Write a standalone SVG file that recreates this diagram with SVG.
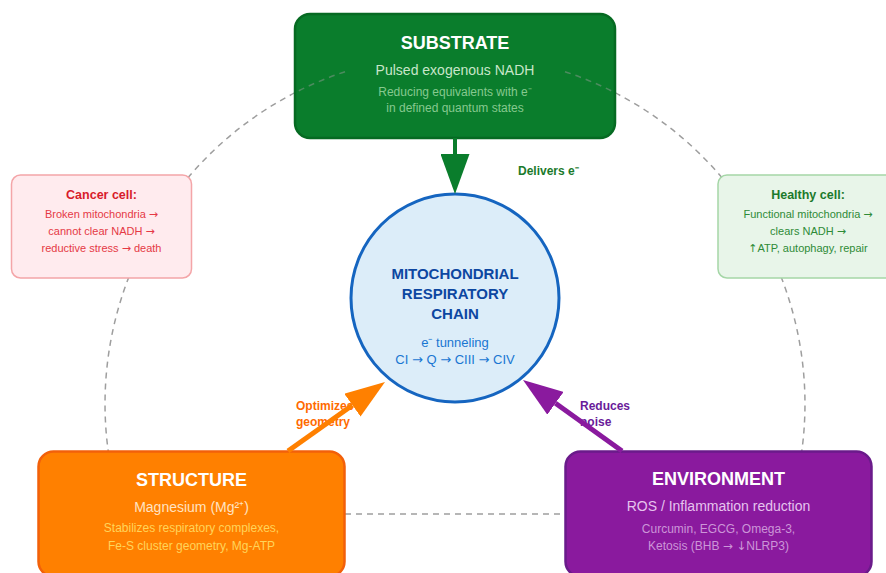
<svg xmlns="http://www.w3.org/2000/svg" width="886" height="573" viewBox="0 0 886 573">
  <defs>
    <style>
      text { font-family: "Liberation Sans", Arial, sans-serif; text-anchor: middle; }
      .sym { font-family: "DejaVu Sans", sans-serif; }
      .ring { fill: none; stroke: #9e9e9e; stroke-width: 1.5; stroke-dasharray: 6 5; }
      .ring-faint { fill: none; stroke: #9e9e9e; stroke-opacity: 0.45; stroke-width: 1.5; stroke-dasharray: 6 5; }
      .title { font-size: 18px; font-weight: bold; fill: #ffffff; }
      .sub { font-size: 14px; }
      .small { font-size: 12px; }
      .note-title { font-size: 12.5px; font-weight: bold; }
      .note { font-size: 11px; }
      .edge-label { font-size: 12px; font-weight: bold; text-anchor: start; }
    </style>
    <marker id="head-green" viewBox="0 0 40 29" refX="0" refY="14.5" markerWidth="40" markerHeight="29" markerUnits="userSpaceOnUse" orient="auto">
      <path d="M0,0 L40,14.5 L0,29 Z" fill="#0a7d2c"/>
    </marker>
    <marker id="head-orange" viewBox="0 0 40 28" refX="0" refY="14" markerWidth="40" markerHeight="28" markerUnits="userSpaceOnUse" orient="auto">
      <path d="M0,0 L40,14 L0,28 Z" fill="#ff8000"/>
    </marker>
    <marker id="head-purple" viewBox="0 0 40 28" refX="0" refY="14" markerWidth="40" markerHeight="28" markerUnits="userSpaceOnUse" orient="auto">
      <path d="M0,0 L40,14 L0,28 Z" fill="#8a1a9e"/>
    </marker>
  </defs>

  <rect x="0" y="0" width="886" height="573" fill="#ffffff"/>

  <!-- dashed cycle linking the four factors -->
  <g id="cycle">
    <path class="ring" d="M295,92.7 A350,350 0 0 0 108.2,451"/>
    <path class="ring" d="M615,92.7 A350,350 0 0 1 801.8,451"/>
    <line class="ring" x1="345" y1="514" x2="565" y2="514"/>
  </g>

  <g id="substrate">
    <rect x="295" y="14" width="320" height="124" rx="15" fill="#0a7d2c" stroke="#066a22" stroke-width="2.5"/>
    <path class="ring-faint" d="M345,71.7 A350,350 0 0 0 295,92.7"/>
    <path class="ring-faint" d="M565,71.7 A350,350 0 0 1 615,92.7"/>
    <text class="title" x="455" y="49">SUBSTRATE</text>
    <text class="sub" x="455" y="75" fill="#c8e6c9">Pulsed exogenous NADH</text>
    <text class="small" x="455" y="96" fill="#86c98f">Reducing equivalents with e⁻</text>
    <text class="small" x="455" y="112" fill="#86c98f">in defined quantum states</text>
  </g>

  <g id="cancer-cell">
    <rect x="11.5" y="175" width="180" height="103" rx="9" fill="#ffebee" stroke="#f4a5a8" stroke-width="1.5"/>
    <text class="note-title" x="101.5" y="199" fill="#d81b2a">Cancer cell:</text>
    <text class="note" x="101.5" y="218" fill="#e53945">Broken mitochondria <tspan class="sym">→</tspan></text>
    <text class="note" x="101.5" y="235" fill="#e53945">cannot clear NADH <tspan class="sym">→</tspan></text>
    <text class="note" x="101.5" y="252" fill="#e53945">reductive stress <tspan class="sym">→</tspan> death</text>
  </g>

  <g id="healthy-cell">
    <rect x="718" y="175" width="180" height="103" rx="9" fill="#e8f5e9" stroke="#a5d6a7" stroke-width="1.5"/>
    <text class="note-title" x="808" y="199" fill="#1b7a2b">Healthy cell:</text>
    <text class="note" x="808" y="218" fill="#2e8b37">Functional mitochondria <tspan class="sym">→</tspan></text>
    <text class="note" x="808" y="235" fill="#2e8b37">clears NADH <tspan class="sym">→</tspan></text>
    <text class="note" x="808" y="252" fill="#2e8b37"><tspan class="sym">↑</tspan>ATP, autophagy, repair</text>
  </g>

  <g id="structure">
    <rect x="38.5" y="451.5" width="306" height="125" rx="15" fill="#ff8000" stroke="#f2600a" stroke-width="2.5"/>
    <text class="title" x="191.5" y="486">STRUCTURE</text>
    <text class="sub" x="191.5" y="512" fill="#ffe3c2">Magnesium (Mg²⁺)</text>
    <text class="small" x="191.5" y="532" fill="#ffd45a">Stabilizes respiratory complexes,</text>
    <text class="small" x="191.5" y="549.5" fill="#ffd45a">Fe-S cluster geometry, Mg-ATP</text>
  </g>

  <g id="environment">
    <rect x="565.5" y="451.5" width="306" height="125" rx="15" fill="#8a1a9e" stroke="#6a1b8a" stroke-width="2.5"/>
    <text class="title" x="718.5" y="485">ENVIRONMENT</text>
    <text class="sub" x="718.5" y="511" fill="#e6c3ee">ROS / Inflammation reduction</text>
    <text class="small" x="718.5" y="532.5" fill="#cc95d8">Curcumin, EGCG, Omega-3,</text>
    <text class="small" x="718.5" y="549.5" fill="#cc95d8">Ketosis (BHB <tspan class="sym">→</tspan> <tspan class="sym">↓</tspan>NLRP3)</text>
  </g>

  <g id="respiratory-chain">
    <circle cx="455" cy="298" r="104" fill="#dcedf9" stroke="#1565c0" stroke-width="3"/>
    <text x="455" y="279" font-size="15" font-weight="bold" fill="#0d47a1">MITOCHONDRIAL</text>
    <text x="455" y="299" font-size="15" font-weight="bold" fill="#0d47a1">RESPIRATORY</text>
    <text x="455" y="319" font-size="15" font-weight="bold" fill="#0d47a1">CHAIN</text>
    <text x="455" y="346.5" font-size="13" fill="#1976d2">e⁻ tunneling</text>
    <text x="455" y="364" font-size="13" fill="#1976d2">CI <tspan class="sym">→</tspan> Q <tspan class="sym">→</tspan> CIII <tspan class="sym">→</tspan> CIV</text>
  </g>

  <g id="connectors">
    <text class="edge-label" x="518" y="175" fill="#1b7a2b">Delivers e⁻</text>
    <text class="edge-label" x="296" y="409.5" fill="#ff6a00">Optimizes</text>
    <text class="edge-label" x="296" y="425.5" fill="#ff6a00">geometry</text>
    <text class="edge-label" x="580" y="409.5" fill="#6a1b9a">Reduces</text>
    <text class="edge-label" x="580" y="425.5" fill="#6a1b9a">noise</text>

    <line x1="455" y1="138" x2="455" y2="154" stroke="#0a7d2c" stroke-width="4" marker-end="url(#head-green)"/>
    <line x1="288" y1="451" x2="352.4" y2="405.2" stroke="#ff8000" stroke-width="5" marker-end="url(#head-orange)"/>
    <line x1="622" y1="451" x2="555.5" y2="403.3" stroke="#8a1a9e" stroke-width="5" marker-end="url(#head-purple)"/>
  </g>
</svg>
